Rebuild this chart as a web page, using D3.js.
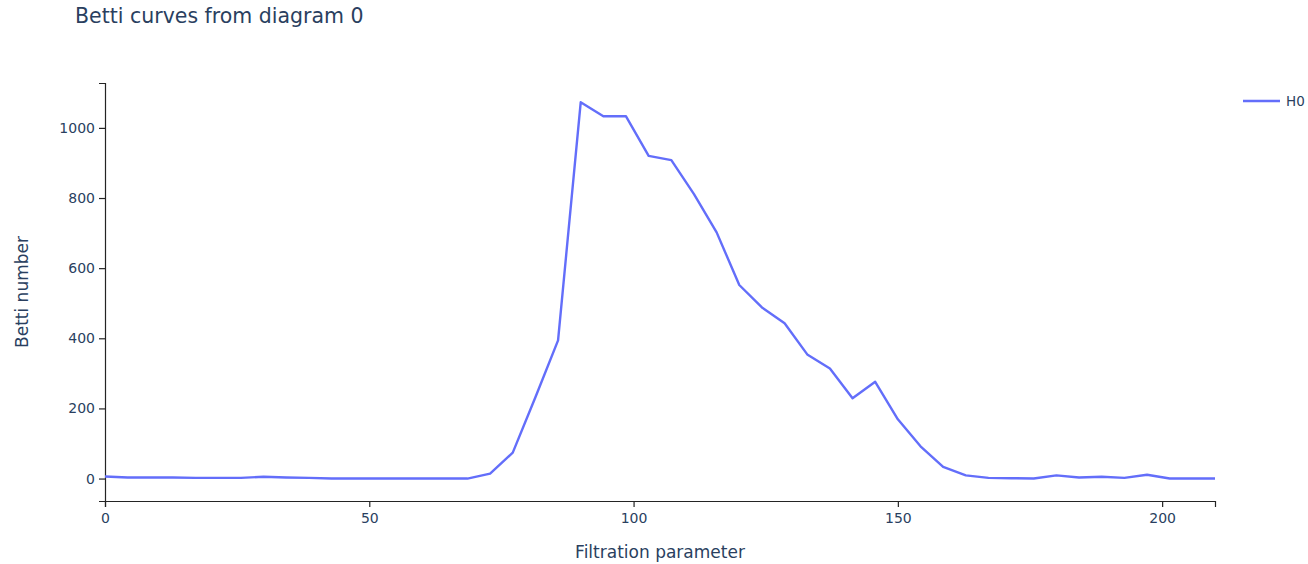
<!DOCTYPE html>
<html>
<head>
<meta charset="utf-8">
<script src="https://cdn.jsdelivr.net/npm/d3@7"></script>
<style>
  html, body { margin: 0; padding: 0; background: #fff; }
  svg text { font-family: "DejaVu Sans", Verdana, sans-serif; fill: #2a3f5f; }
</style>
</head>
<body>
<svg id="chart" width="1308" height="564"></svg>
<script>
// Filtration parameter samples: 50 evenly spaced values over [0, 210]
const filtrationStart = 0;
const filtrationEnd = 210;
const sampleCount = 50;
const filtration = d3.range(sampleCount).map(i => filtrationStart + i * (filtrationEnd - filtrationStart) / (sampleCount - 1));

// Betti numbers for homology dimension 0
const bettiH0 = [
  6, 3, 3, 3, 2, 2, 2, 5, 3, 2,
  0, 0, 0, 0, 0, 0, 0, 14, 74, 232,
  394, 1073, 1033, 1033, 920, 908, 811, 702, 552, 488,
  443, 354, 314, 229, 276, 169, 92, 33, 9, 2,
  1, 0, 9, 3, 5, 2, 11, 0, 0, 0
];

const seriesName = "H0";
const xTicks = [0, 50, 100, 150, 200];
const yTicks = [0, 200, 400, 600, 800, 1000];
const titleText = "Betti curves from diagram 0";
const xTitle = "Filtration parameter";
const yTitle = "Betti number";

const svg = d3.select("#chart");
const plot = { left: 105, right: 1215, top: 83, bottom: 501 };

const x = d3.scaleLinear().domain([0, 210]).range([plot.left, plot.right]);
const y = d3.scaleLinear().domain([-64, 1128]).range([plot.bottom, plot.top]);

const axisColor = "#242424";

// x axis
const gx = svg.append("g")
  .attr("transform", `translate(0,${plot.bottom})`)
  .call(d3.axisBottom(x).tickValues(xTicks).tickSize(6).tickPadding(6).tickFormat(d3.format("d")));
gx.select(".domain").attr("stroke", axisColor).attr("stroke-width", 1.2);
gx.selectAll(".tick line").attr("stroke", axisColor).attr("stroke-width", 1.2);
gx.selectAll(".tick text").style("font-size", "14px").attr("fill", "#2a3f5f");

// y axis
const gy = svg.append("g")
  .attr("transform", `translate(${plot.left},0)`)
  .call(d3.axisLeft(y).tickValues(yTicks).tickSize(6).tickPadding(4).tickFormat(d3.format("d")));
gy.select(".domain").attr("stroke", axisColor).attr("stroke-width", 1.2);
gy.selectAll(".tick line").attr("stroke", axisColor).attr("stroke-width", 1.2);
gy.selectAll(".tick text").style("font-size", "14px").attr("fill", "#2a3f5f");

// clip path for the data line
svg.append("clipPath").attr("id", "plotClip")
  .append("rect")
  .attr("x", plot.left).attr("y", plot.top)
  .attr("width", plot.right - plot.left).attr("height", plot.bottom - plot.top);

const lineGen = d3.line()
  .x((d, i) => x(filtration[i]))
  .y(d => y(d));

svg.append("path")
  .datum(bettiH0)
  .attr("clip-path", "url(#plotClip)")
  .attr("fill", "none")
  .attr("stroke", "#636efa")
  .attr("stroke-width", 2.4)
  .attr("stroke-linejoin", "round")
  .attr("d", lineGen);

// title
svg.append("text")
  .attr("x", 75).attr("y", 23)
  .style("font-size", "20.5px")
  .text(titleText);

// axis titles
svg.append("text")
  .attr("x", (plot.left + plot.right) / 2).attr("y", 558)
  .attr("text-anchor", "middle")
  .style("font-size", "17px")
  .text(xTitle);

svg.append("text")
  .attr("transform", `translate(28,${(plot.top + plot.bottom) / 2}) rotate(-90)`)
  .attr("text-anchor", "middle")
  .style("font-size", "17px")
  .text(yTitle);

// legend
const legend = svg.append("g").attr("transform", "translate(1243,101)");
legend.append("line")
  .attr("x1", 0).attr("x2", 37).attr("y1", 0).attr("y2", 0)
  .attr("stroke", "#636efa").attr("stroke-width", 2.4);
legend.append("text")
  .attr("x", 43).attr("y", 5)
  .style("font-size", "13.5px")
  .text(seriesName);
</script>
</body>
</html>
